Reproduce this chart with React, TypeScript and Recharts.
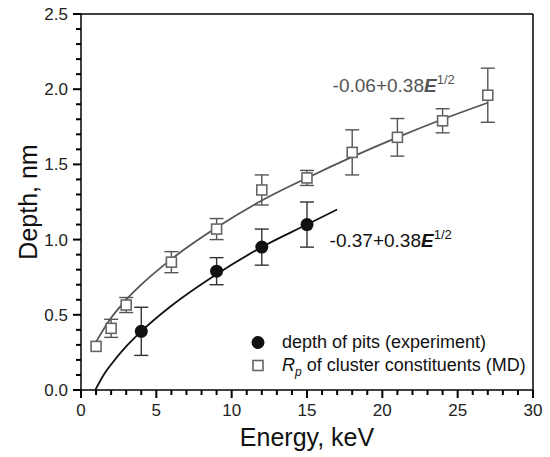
import React from "react";
import {
  ComposedChart,
  XAxis,
  YAxis,
  Line,
  Scatter,
  ErrorBar,
  ReferenceLine,
  ReferenceDot,
} from "recharts";

// ---- data ----
const mdEnergy = [1, 2, 3, 6, 9, 12, 15, 18, 21, 24, 27];
const mdDepth = [0.29, 0.41, 0.565, 0.85, 1.07, 1.33, 1.41, 1.58, 1.68, 1.79, 1.96];
const mdErr = [0, 0.06, 0.05, 0.07, 0.07, 0.1, 0.05, 0.15, 0.125, 0.08, 0.18];

const expEnergy = [4, 9, 12, 15];
const expDepth = [0.39, 0.79, 0.95, 1.1];
const expErr = [0.16, 0.09, 0.12, 0.15];

// fitted curves
const fitMdEnergy = [1, 2, 3, 4, 6, 9, 12, 15, 18, 21, 24, 27];
const fitMdDepth = [0.32, 0.48, 0.6, 0.7, 0.87, 1.08, 1.26, 1.41, 1.55, 1.68, 1.8, 1.91];
const fitExpEnergy = [0.95, 1.5, 2, 3, 4, 6, 9, 12, 15, 17];
const fitExpDepth = [0, 0.1, 0.17, 0.29, 0.39, 0.56, 0.77, 0.95, 1.1, 1.2];

const xTicks = [0, 1, 2, 3, 4, 5, 6, 7, 8, 9, 10, 11, 12, 13, 14, 15, 16, 17, 18, 19, 20, 21, 22, 23, 24, 25, 26, 27, 28, 29, 30];
const yTicks = [0, 0.1, 0.2, 0.3, 0.4, 0.5, 0.6, 0.7, 0.8, 0.9, 1.0, 1.1, 1.2, 1.3, 1.4, 1.5, 1.6, 1.7, 1.8, 1.9, 2.0, 2.1, 2.2, 2.3, 2.4, 2.5];

const xLabel = "Energy, keV";
const yLabel = "Depth, nm";
const legendExp = "depth of pits (experiment)";
const legendMd = " of cluster constituents (MD)";
const fitMdLabel = "-0.06+0.38";
const fitExpLabel = "-0.37+0.38";

// ---- build tables ----
const mdData = mdEnergy.map((x, i) => ({ x, y: mdDepth[i], err: mdErr[i] }));
const expData = expEnergy.map((x, i) => ({ x, y: expDepth[i], err: expErr[i] }));
const fitMd = fitMdEnergy.map((x, i) => ({ x, y: fitMdDepth[i] }));
const fitExp = fitExpEnergy.map((x, i) => ({ x, y: fitExpDepth[i] }));

const FONT = "'Liberation Sans', Arial, Helvetica, sans-serif";
const GRAY = "#555555";
const BLACK = "#111111";
const TS = 4; // axis tickSize passed to recharts

const isMajorY = (v: number) => Math.abs(v * 2 - Math.round(v * 2)) < 1e-6;

const XTick = (props: any) => {
  const x = Number(props.x);
  const y0 = Number(props.y) - TS;
  const v = Number(props.payload.value);
  const major = v % 5 === 0;
  const len = major ? 8 : 5;
  return (
    <g>
      <line x1={x} x2={x} y1={y0} y2={y0 + len} stroke="#000" strokeWidth={2} />
      {major && (
        <text x={x} y={y0 + 26} textAnchor="middle" fontSize={17} fontFamily={FONT} fill="#222" stroke="none">
          {v}
        </text>
      )}
    </g>
  );
};

const YTick = (props: any) => {
  const x0 = Number(props.x) + TS;
  const y = Number(props.y);
  const v = Number(props.payload.value);
  const major = isMajorY(v);
  const len = major ? 8 : 5;
  return (
    <g>
      <line x1={x0 - len} x2={x0} y1={y} y2={y} stroke="#000" strokeWidth={2} />
      {major && (
        <text x={x0 - 13} y={y + 6} textAnchor="end" fontSize={17} fontFamily={FONT} fill="#222" stroke="none">
          {v.toFixed(1)}
        </text>
      )}
    </g>
  );
};

const Square = (props: any) => {
  const { cx, cy } = props;
  if (cx == null || cy == null) return null;
  return <rect x={cx - 5} y={cy - 5} width={10} height={10} fill="#fff" stroke="#666" strokeWidth={1.6} />;
};

const Dot = (props: any) => {
  const { cx, cy } = props;
  if (cx == null || cy == null) return null;
  return <circle cx={cx} cy={cy} r={6.5} fill={BLACK} />;
};

const fitText = (label: string, color: string) => (props: any) => {
  const { viewBox } = props;
  return (
    <text x={viewBox.x} y={viewBox.y} fontSize={19} fontFamily={FONT} fill={color}>
      <tspan>{label}</tspan>
      <tspan fontWeight="bold" fontStyle="italic">E</tspan>
      <tspan fontSize={13} dy={-8}>1/2</tspan>
    </text>
  );
};

const LegendBox = () => (
  <div
    style={{
      position: "absolute",
      left: 248,
      top: 331,
      fontFamily: FONT,
      fontSize: 18,
      color: "#111",
      lineHeight: "23px",
      whiteSpace: "nowrap",
    }}
  >
    <div style={{ display: "flex", alignItems: "center", height: 23 }}>
      <svg width={24} height={23} style={{ marginRight: 10 }}>
        <circle cx={10} cy={11.5} r={6.5} fill={BLACK} />
      </svg>
      <span>{legendExp}</span>
    </div>
    <div style={{ display: "flex", alignItems: "center", height: 23 }}>
      <svg width={24} height={23} style={{ marginRight: 10 }}>
        <rect x={5} y={6.5} width={10} height={10} fill="#fff" stroke="#666" strokeWidth={1.6} />
      </svg>
      <span>
        <i>R</i>
        <sub style={{ fontSize: 12, fontStyle: "italic", lineHeight: 0 }}>p</sub>
        {legendMd}
      </span>
    </div>
  </div>
);

export default function App() {
  return (
    <div style={{ position: "relative", background: "#fff", width: 550, height: 457 }}>
      <style>{`body{margin:0;background:#fff}`}</style>
      <ComposedChart width={550} height={457} margin={{ top: 14, right: 17, bottom: 0, left: 0 }}>
        <XAxis
          type="number"
          dataKey="x"
          domain={[0, 30]}
          ticks={xTicks}
          interval={0}
          height={67}
          tickSize={TS}
          tickMargin={0}
          tickLine={false}
          tick={<XTick />}
          axisLine={{ stroke: "#000", strokeWidth: 1.5 }}
          label={{
            content: (p: any) => {
              const vb = p.viewBox;
              return (
                <text x={vb.x + vb.width / 2} y={vb.y + 56} textAnchor="middle" fontSize={25} fontFamily={FONT} fill="#111">
                  {xLabel}
                </text>
              );
            },
          }}
        />
        <YAxis
          type="number"
          dataKey="y"
          domain={[0, 2.5]}
          ticks={yTicks}
          interval={0}
          width={81}
          tickSize={TS}
          tickMargin={0}
          tickLine={false}
          tick={<YTick />}
          axisLine={{ stroke: "#000", strokeWidth: 1.5 }}
          label={{
            content: (p: any) => {
              const vb = p.viewBox;
              const cx = vb.x + 28;
              const cy = vb.y + vb.height / 2;
              return (
                <text x={cx} y={cy} textAnchor="middle" dominantBaseline="central" fontSize={25} fontFamily={FONT} fill="#111" transform={`rotate(-90 ${cx} ${cy})`}>
                  {yLabel}
                </text>
              );
            },
          }}
        />
        <ReferenceLine y={2.5} stroke="#000" strokeWidth={1.5} />
        <ReferenceLine x={30} stroke="#000" strokeWidth={1.5} />
        <Line data={fitMd} dataKey="y" type="monotone" stroke={GRAY} strokeWidth={1.8} dot={false} isAnimationActive={false} legendType="none" />
        <Line data={fitExp} dataKey="y" type="monotone" stroke={BLACK} strokeWidth={1.8} dot={false} isAnimationActive={false} legendType="none" />
        <Scatter data={mdData} dataKey="y" shape={<Square />} isAnimationActive={false}>
          <ErrorBar dataKey="err" direction="y" width={7} stroke={GRAY} strokeWidth={1.4} />
        </Scatter>
        <Scatter data={expData} dataKey="y" shape={<Dot />} isAnimationActive={false}>
          <ErrorBar dataKey="err" direction="y" width={7} stroke="#333" strokeWidth={1.4} />
        </Scatter>
        <ReferenceDot x={16.7} y={1.98} r={0} fill="none" stroke="none" label={{ content: fitText(fitMdLabel, GRAY) }} />
        <ReferenceDot x={16.5} y={0.95} r={0} fill="none" stroke="none" label={{ content: fitText(fitExpLabel, BLACK) }} />
      </ComposedChart>
      <LegendBox />
    </div>
  );
}
